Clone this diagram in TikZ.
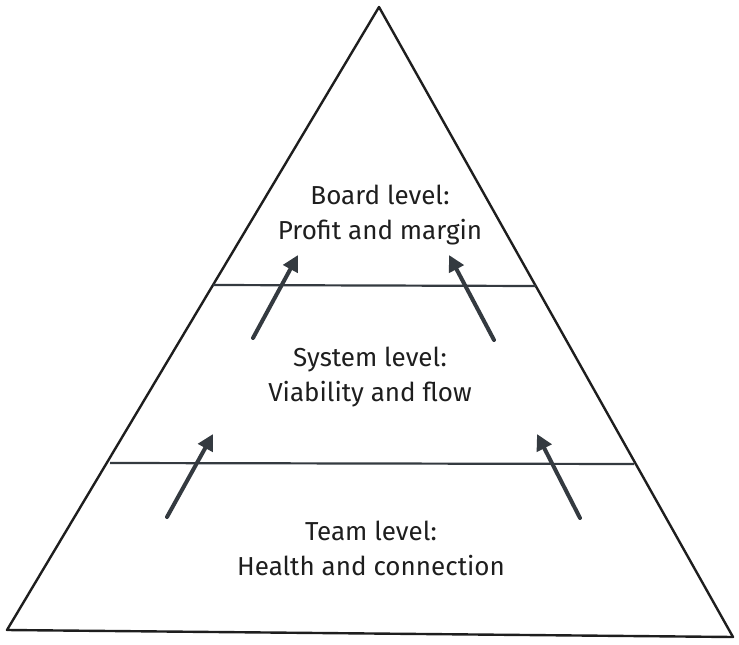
\documentclass[tikz,border=0pt]{standalone}
\usepackage{fontspec}
\setmainfont{Fira Sans}
\usetikzlibrary{arrows.meta}
\definecolor{ink}{HTML}{1E1E1E}
\definecolor{arrowc}{HTML}{343A40}
\begin{document}
\begin{tikzpicture}[x=1pt,y=-1pt,
  edge/.style={draw=ink,line width=2.4pt,line join=round},
  divider/.style={draw=arrowc,line width=2.2pt},
  uparrow/.style={draw=arrowc,line width=4pt,line cap=round,-{Triangle[length=16pt,width=16pt]}},
  label/.style={font=\fontsize{26}{35}\selectfont,text=ink,align=center,inner sep=0pt}]
\useasboundingbox (0,0) rectangle (739,645);
% triangle corners
\coordinate (apex) at (379,7);
\coordinate (bl) at (7,630);
\coordinate (br) at (733,637);
\draw[edge] (apex) -- (bl) -- (br) -- cycle;
% dividers
\coordinate (d1l) at (213,285);
\coordinate (d1r) at (536,286);
\coordinate (d2l) at (110,463);
\coordinate (d2r) at (634,464);
\draw[divider] (d1l) -- (d1r);
\draw[divider] (d2l) -- (d2r);
% texts
\node[label] (board) at (380,215) {Board level:\\Profit and margin};
\node[label] (system) at (370,377) {System level:\\Viability and flow};
\node[label] (team) at (371,548) {Team level:\\Health and connection};
% arrow endpoints
\coordinate (a1s) at (253,338); \coordinate (a1e) at (298,255);
\coordinate (a2s) at (494,340); \coordinate (a2e) at (449,255);
\coordinate (a3s) at (167,517); \coordinate (a3e) at (213,434);
\coordinate (a4s) at (580,518); \coordinate (a4e) at (537,434);
\draw[uparrow] (a1s) -- (a1e);
\draw[uparrow] (a2s) -- (a2e);
\draw[uparrow] (a3s) -- (a3e);
\draw[uparrow] (a4s) -- (a4e);
\end{tikzpicture}
\end{document}
